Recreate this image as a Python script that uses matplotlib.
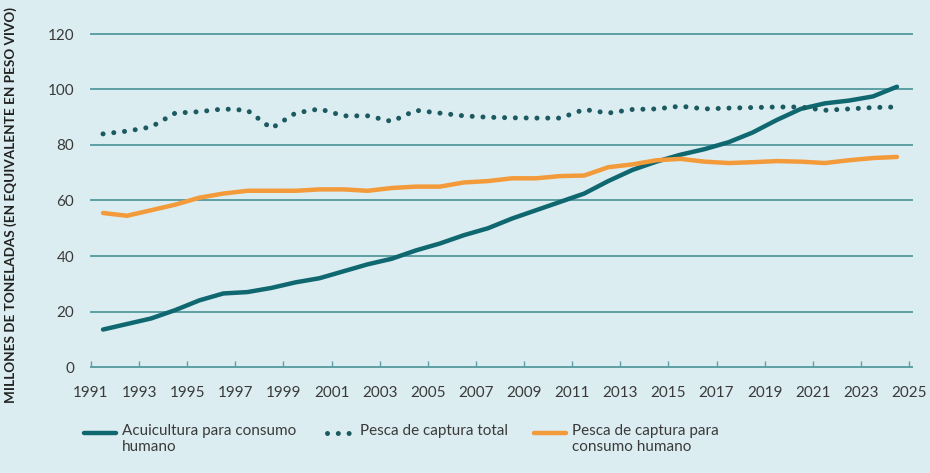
import matplotlib
matplotlib.use("Agg")
import matplotlib.pyplot as plt
from matplotlib.lines import Line2D
import numpy as np

years = list(range(1991, 2025))
acuicultura = [13.5, 15.5, 17.5, 20.5, 24, 26.5, 27, 28.5, 30.5, 32,
               34.5, 37, 39, 42, 44.5, 47.5, 50, 53.5, 56.5, 59.5,
               62.5, 67, 71, 74, 76.5, 78.5, 81, 84.5, 89, 93,
               95, 96, 97.5, 101]
captura_total = [84, 85, 86.5, 91.5, 92, 93, 92.5, 86, 91.5, 93,
                 90.5, 90.5, 88.5, 92.5, 91.5, 90.5, 90, 89.8, 89.7, 89.7,
                 92.8, 91.5, 92.8, 93, 94, 93, 93.3, 93.5, 93.7, 93.7,
                 92.5, 93, 93.5, 93.7]
captura_consumo = [55.5, 54.5, 56.5, 58.5, 61, 62.5, 63.5, 63.5, 63.5, 64,
                   64, 63.5, 64.5, 65, 65, 66.5, 67, 68, 68, 68.8,
                   69, 72, 73, 74.5, 75, 74, 73.5, 73.8, 74.2, 74,
                   73.5, 74.5, 75.3, 75.7]
labels = ["Acuicultura para consumo\nhumano", "Pesca de captura total",
          "Pesca de captura para\nconsumo humano"]
ylabel = "MILLONES DE TONELADAS (EN EQUIVALENTE EN PESO VIVO)"
xticks = list(range(1991, 2026, 2))
yticks = list(range(0, 121, 20))

BG = "#dcedf1"
TEAL = "#0f6770"
DOT = "#1b5a60"
ORANGE = "#f39a3a"
GRID = "#5d9fa3"
TXT = "#3a3a3a"

plt.rcParams['font.family'] = ['Lato', 'DejaVu Sans']

fig = plt.figure(figsize=(9.3, 4.73), dpi=100, facecolor=BG)
ax = fig.add_axes([91/930, 106/473, 818/930, 333/473])
ax.set_facecolor(BG)

dotstyle = dict(color=DOT, lw=3.6, linestyle=(0, (0.01, 2.15)), dash_capstyle='round')
x = np.array(years) + 0.5
ax.plot(x, acuicultura, color=TEAL, lw=3.2, solid_capstyle='round', zorder=3)
ax.plot(x, captura_consumo, color=ORANGE, lw=3.2, solid_capstyle='round', zorder=3)
ax.plot(x, captura_total, zorder=3, **dotstyle)

ax.set_xlim(1991, 2025)
ax.set_ylim(0, 120)
ax.set_yticks(yticks)
ax.set_xticks(xticks)
for s in ax.spines.values():
    s.set_visible(False)
for v in yticks:
    ax.axhline(v, color=GRID, lw=1.4, zorder=1, xmax=1.004, clip_on=False)
ax.tick_params(axis='y', length=0, pad=12, labelsize=11, labelcolor=TXT)
ax.tick_params(axis='x', direction='in', length=4, width=1, color=GRID,
               pad=14, labelsize=11, labelcolor=TXT)

fig.text(11/930, 1 - 205/473, ylabel, rotation=90, ha='center', va='center',
         fontsize=9.7, fontweight='bold', color='#222222')

# legend
leg_y = 1 - 433/473
entries = [(84, 122, dict(color=TEAL, lw=3.2, solid_capstyle='round')),
           (327, 360, dotstyle),
           (534, 572, dict(color=ORANGE, lw=3.2, solid_capstyle='round'))]
widths = [32, 24, 32]
for (lx, tx, style), lab, w in zip(entries, labels, widths):
    fig.add_artist(Line2D([lx/930, (lx+w)/930], [leg_y, leg_y],
                          transform=fig.transFigure, **style))
    fig.text(tx/930, leg_y + 9/473, lab, ha='left', va='top', fontsize=11,
             color=TXT, linespacing=1.15)

fig.savefig("out.png", dpi=100, facecolor=BG)
